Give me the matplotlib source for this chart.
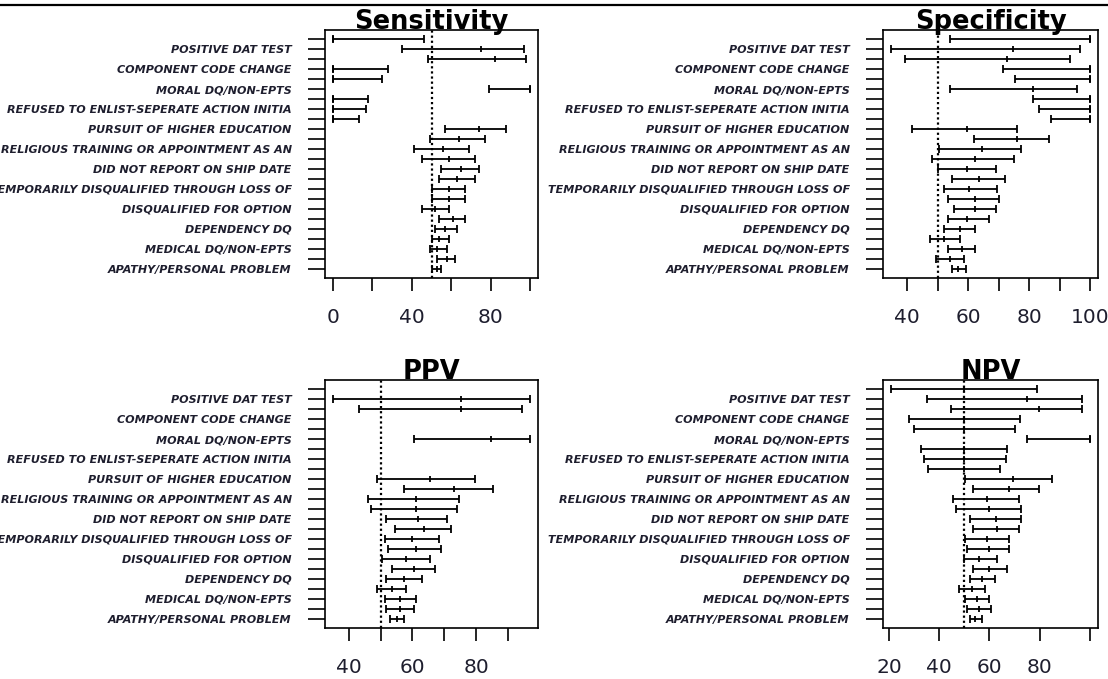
import numpy as np
import matplotlib
matplotlib.use("Agg")
import matplotlib.pyplot as plt
from matplotlib.lines import Line2D

nan = np.nan

# 24 rows, top to bottom; R only printed every other label
LABELS = ["POSITIVE DAT TEST", "COMPONENT CODE CHANGE", "MORAL DQ/NON-EPTS",
          "REFUSED TO ENLIST-SEPERATE ACTION INITIA", "PURSUIT OF HIGHER EDUCATION",
          "RELIGIOUS TRAINING OR APPOINTMENT AS AN", "DID NOT REPORT ON SHIP DATE",
          "TEMPORARILY DISQUALIFIED THROUGH LOSS OF", "DISQUALIFIED FOR OPTION",
          "DEPENDENCY DQ", "MEDICAL DQ/NON-EPTS", "APATHY/PERSONAL PROBLEM"]

SENS_LO  = [0, 35, 48, 0, 0, 79, 0, 0, 0, 57, 49, 41, 45, 55, 54, 50, 50, 45, 54, 52, 50, 49, 53, 50]
SENS_EST = [0, 75, 82, 0, 0, 100, 0, 0, 0, 74, 64, 56, 59, 65, 63, 59, 59, 52, 61, 57, 54, 53, 58, 53]
SENS_HI  = [46, 97, 98, 28, 25, 100, 18, 17, 13, 88, 77, 69, 72, 74, 72, 67, 67, 59, 67, 63, 59, 58, 62, 55]

SPEC_LO  = [54.1, 34.7, 39.2, 71.6, 75.4, 54.1, 81.3, 83.3, 87.1, 41.7, 62.0, 50.6,
            48.3, 50.0, 54.8, 52.1, 53.4, 55.5, 53.4, 52.1, 47.5, 53.4, 49.6, 54.8]
SPEC_EST = [100, 74.8, 72.8, 100, 100, 81.3, 100, 100, 100, 59.8, 76.2, 64.6,
            62.4, 59.8, 63.7, 60.4, 62.4, 62.4, 59.8, 57.3, 52.1, 57.9, 54.1, 56.6]
SPEC_HI  = [100, 96.7, 93.5, 100, 100, 95.6, 100, 100, 100, 76.2, 86.5, 77.5,
            74.9, 69.0, 72.2, 69.5, 70.3, 69.0, 67.0, 62.4, 57.3, 62.4, 58.8, 59.3]

PPV_LO  = [nan, 35.1, 43.2, nan, nan, 60.5, nan, nan, nan, 48.8, 57.5, 46.2,
           46.9, 51.7, 54.4, 51.4, 52.3, 50.4, 53.6, 51.7, 48.8, 51.4, 51.7, 53.0]
PPV_EST = [nan, 75.2, 75.2, nan, nan, 84.5, nan, nan, nan, 65.4, 73.0, 61.0,
           61.0, 61.6, 63.7, 59.9, 61.0, 57.9, 60.5, 57.5, 53.6, 56.1, 56.1, 55.3]
PPV_HI  = [nan, 96.8, 94.4, nan, nan, 96.8, nan, nan, nan, 79.6, 85.1, 74.7,
           73.9, 70.9, 72.2, 68.4, 69.0, 65.4, 67.1, 63.0, 57.9, 61.1, 60.5, 57.5]

NPV_LO  = [20.8, 35.0, 44.5, 27.9, 30.0, 74.8, 32.7, 33.9, 35.7, 50.1, 53.4, 45.6,
           46.6, 52.2, 53.6, 50.1, 51.1, 49.8, 53.6, 52.2, 48.0, 50.1, 51.1, 52.2]
NPV_EST = [50, 74.8, 79.8, 50, 50, 100, 50, 50, 50, 69.2, 67.8, 59.0,
           60.0, 62.4, 63.1, 59.0, 60.0, 56.0, 60.0, 56.9, 52.9, 55.1, 56.0, 54.3]
NPV_HI  = [78.8, 97.0, 97.0, 72.0, 70.2, 100, 67.1, 66.4, 64.0, 85.0, 79.8, 71.7,
           72.4, 72.4, 71.7, 67.8, 67.8, 63.1, 67.1, 62.1, 58.2, 60.0, 60.7, 56.9]

TXT = "#1e1e2e"

def panel(rect, title, lo, est, hi, ticks, shown):
    ax = fig.add_axes(rect)
    lo, est, hi = map(np.array, (lo, est, hi))
    n = len(est)
    y = np.arange(n, 0, -1)
    ax.errorbar(est, y, xerr=[est - lo, hi - est], fmt="|", color="black",
                ms=4.5, mew=1.3, elinewidth=1.3, capsize=2.6, capthick=1.3)
    ax.axvline(50, color="black", lw=1.6, ls=(0, (1, 1.3)))
    a, b = np.nanmin(lo), np.nanmax(hi)
    pad = 0.04 * (b - a)
    ax.set_xlim(a - pad, b + pad)
    ax.set_ylim(1 - 0.04 * (n - 1), n + 0.04 * (n - 1))
    ax.set_xticks(ticks)
    ax.set_xticklabels([str(t) if t in shown else "" for t in ticks],
                       fontsize=14.5, color=TXT)
    ax.tick_params(axis="x", length=9.4, width=1.2, pad=12.5)
    ax.set_yticks(y)
    ylabs = [""] * n
    for i, lab in enumerate(LABELS):
        ylabs[2 * i + 1] = lab
    ax.set_yticklabels(ylabs, fontsize=8.0, fontweight="bold", style="italic",
                       color=TXT)
    ax.tick_params(axis="y", length=12, width=1.2, pad=12)
    for s in ax.spines.values():
        s.set_linewidth(1.2)
    ax.text(0.5, 1.003, title, transform=ax.transAxes, ha="center", va="baseline",
            fontsize=18.5, fontweight="bold", color="black")
    return ax

fig = plt.figure(figsize=(11.08, 6.79), dpi=100)
W, H = 1108, 679
def rect(x0, y0, x1, y1):
    return [x0 / W, 1 - y1 / H, (x1 - x0) / W, (y1 - y0) / H]

panel(rect(325, 30, 538, 278), "Sensitivity", SENS_LO, SENS_EST, SENS_HI,
      [0, 20, 40, 60, 80, 100], [0, 40, 80])
panel(rect(883, 30, 1098, 278), "Specificity", SPEC_LO, SPEC_EST, SPEC_HI,
      [40, 50, 60, 70, 80, 90, 100], [40, 60, 80, 100])
panel(rect(325, 380, 538, 628), "PPV", PPV_LO, PPV_EST, PPV_HI,
      [40, 50, 60, 70, 80, 90], [40, 60, 80])
panel(rect(883, 380, 1098, 628), "NPV", NPV_LO, NPV_EST, NPV_HI,
      [20, 40, 60, 80, 100], [20, 40, 60, 80])

fig.add_artist(Line2D([0, 1], [1 - 4.5 / H] * 2, transform=fig.transFigure,
                      color="black", lw=1.6))

fig.savefig("out.png", dpi=100)
